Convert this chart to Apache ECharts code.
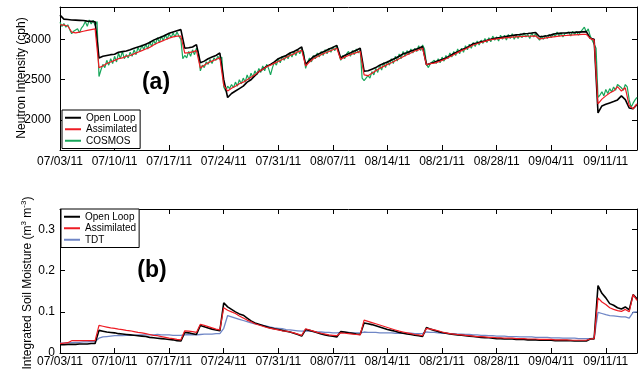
<!DOCTYPE html>
<html><head><meta charset="utf-8">
<script src="https://cdn.jsdelivr.net/npm/echarts@6/dist/echarts.min.js"></script>
<style>html,body{margin:0;padding:0;background:#fff}#c{width:639px;height:374px}</style>
</head><body><div id="c"></div><script>
// x values are days since 07/03/11 00:00
const tickDays = [0, 7, 14, 21, 28, 35, 42, 49, 56, 63, 70];
const tickLabels = ['07/03/11','07/10/11','07/17/11','07/24/11','07/31/11','08/07/11','08/14/11','08/21/11','08/28/11','09/04/11','09/11/11'];
const neutronTicks = [2000, 2500, 3000];
const smTicks = [0, 0.1, 0.2, 0.3];
const smTickLabels = ['0', '0.1', '0.2', '0.3'];
const step = 0.5;      // days between samples (Open Loop, Assimilated, TDT)
const stepCosmos = 0.25; // days between COSMOS samples

// (a) Neutron intensity (cph)
const neutronOpenLoop = [
3300,3250,3245,3240,3238,3235,3232,3225,3222,3218,
2770,2790,2800,2810,2815,2840,2848,2855,2870,2890,
2905,2920,2940,2960,2990,3010,3030,3050,3075,3090,
3105,3120,2890,2895,2905,2935,2710,2730,2760,2780,
2800,2830,2500,2280,2330,2360,2390,2420,2470,2500,
2550,2600,2630,2665,2690,2720,2760,2780,2800,2830,
2850,2875,2905,2690,2740,2785,2810,2835,2855,2880,
2900,2925,2770,2800,2820,2845,2865,2890,2605,2610,
2630,2650,2680,2700,2720,2745,2765,2790,2820,2835,
2855,2870,2890,2910,2685,2700,2715,2735,2750,2770,
2795,2825,2845,2870,2890,2915,2945,2955,2970,2980,
2995,3008,3015,3022,3030,3040,3048,3055,3060,3068,
3072,3078,3085,3032,3038,3045,3055,3068,3074,3078,
3080,3084,3086,3089,3092,3095,3012,3000,2090,2175,
2195,2213,2230,2250,2300,2254,2150,2140,2195];
const neutronAssim = [
3180,3175,3165,3090,3080,3090,3100,3110,3120,3130,
2650,2670,2700,2720,2740,2760,2770,2790,2800,2820,
2840,2860,2880,2900,2930,2955,2975,2995,3015,3030,
3040,3040,2830,2835,2845,2860,2645,2680,2710,2730,
2750,2770,2430,2360,2395,2420,2450,2470,2500,2530,
2560,2600,2630,2660,2680,2705,2725,2750,2775,2800,
2820,2845,2865,2670,2720,2760,2785,2810,2830,2850,
2870,2890,2750,2780,2800,2820,2835,2850,2560,2550,
2580,2610,2640,2665,2690,2710,2735,2760,2785,2810,
2830,2855,2870,2890,2685,2700,2705,2720,2740,2760,
2785,2810,2835,2860,2880,2905,2930,2945,2960,2975,
2990,3000,3005,3012,3018,3022,3026,3030,3033,3036,
3038,3040,3042,3005,3012,3020,3028,3034,3040,3045,
3048,3052,3055,3058,3060,3062,3012,2990,2200,2260,
2300,2336,2360,2415,2360,2400,2180,2140,2200];
const neutronCosmos = [
3210,3160,3195,3150, 3180,3120,3070,3100, 3090,3130,3080,3140, 3170,3220,3160,3240, 3190,3235,3170,3220,
2540,2620,2690,2650, 2740,2680,2760,2700, 2790,2720,2830,2760, 2850,2760,2810,2770, 2840,2790,2870,2810,
2900,2850,2930,2870, 2940,2880,2970,2910, 2990,2940,3020,2960, 3040,2980,3060,3000, 3070,3020,3080,3030,
3090,3040,3000,2760, 2800,2770,2850,2790, 2870,2810,2890,2840, 2610,2680,2650,2720, 2690,2750,2700,2770,
2740,2790,2750,2780, 2410,2360,2420,2390, 2440,2400,2470,2420, 2500,2450,2520,2470, 2560,2500,2580,2530,
2610,2560,2640,2590, 2670,2610,2690,2640, 2560,2650,2720,2680, 2760,2710,2790,2740, 2800,2760,2830,2780,
2850,2800,2870,2820, 2880,2840,2640,2720, 2770,2720,2800,2760, 2830,2780,2850,2800, 2870,2820,2890,2840,
2910,2860,2920,2900, 2740,2800,2760,2820, 2850,2790,2860,2810, 2880,2830,2870,2520, 2490,2470,2550,2520,
2600,2560,2640,2590, 2680,2620,2710,2650, 2730,2680,2760,2700, 2790,2730,2820,2760, 2850,2790,2860,2810,
2880,2830,2890,2850, 2920,2860,2930,2880, 2690,2650,2700,2680, 2740,2700,2760,2710, 2780,2730,2800,2760,
2830,2780,2850,2800, 2880,2820,2890,2840, 2920,2870,2940,2890, 2960,2910,2980,2930, 2990,2950,3010,2960,
3020,2970,3040,2990, 3030,2980,3050,3000, 3050,2990,3060,3010, 3070,3000,3050,3010, 3070,3020,3080,3030,
3060,3010,3080,3030, 3070,3020,2990,3040, 3000,3050,3010,3060, 3020,3070,3030,3090, 3040,3080,3030,3070,
3050,3090,3040,3100, 3060,3100,3050,3090, 3080,3150,3090,3130, 3040,2990,2940,2890, 2280,2310,2350,2300,
2380,2330,2390,2350, 2410,2370,2440,2460, 2400,2370,2440,2410, 2250,2160,2210,2250, 2280];

// (b) Integrated soil moisture (m3 m-3)
const smOpenLoop = [
0.020,0.020,0.021,0.021,0.021,0.022,0.022,0.022,0.023,0.023,
0.055,0.053,0.051,0.050,0.049,0.047,0.046,0.045,0.044,0.043,
0.042,0.041,0.040,0.038,0.037,0.036,0.035,0.034,0.033,0.032,
0.030,0.029,0.050,0.049,0.047,0.045,0.067,0.064,0.061,0.058,
0.056,0.054,0.122,0.112,0.106,0.100,0.095,0.092,0.085,0.078,
0.073,0.070,0.067,0.064,0.061,0.059,0.057,0.055,0.053,0.051,
0.048,0.045,0.041,0.057,0.055,0.052,0.049,0.046,0.044,0.042,
0.041,0.039,0.052,0.051,0.049,0.048,0.046,0.045,0.073,0.071,
0.069,0.066,0.063,0.060,0.057,0.055,0.053,0.050,0.048,0.046,
0.045,0.043,0.042,0.040,0.062,0.058,0.055,0.052,0.050,0.048,
0.046,0.045,0.044,0.043,0.042,0.041,0.040,0.039,0.038,0.037,
0.037,0.036,0.035,0.035,0.034,0.034,0.034,0.033,0.033,0.033,
0.032,0.032,0.032,0.031,0.031,0.031,0.031,0.030,0.030,0.030,
0.030,0.030,0.029,0.029,0.029,0.029,0.034,0.034,0.164,0.145,
0.134,0.120,0.116,0.110,0.107,0.112,0.105,0.142,0.132];
const smAssim = [
0.023,0.024,0.025,0.030,0.030,0.030,0.030,0.030,0.030,0.030,
0.067,0.065,0.063,0.061,0.060,0.058,0.057,0.055,0.054,0.052,
0.050,0.049,0.047,0.045,0.043,0.042,0.040,0.038,0.036,0.035,
0.033,0.032,0.054,0.053,0.052,0.050,0.070,0.067,0.064,0.061,
0.058,0.056,0.110,0.104,0.100,0.096,0.090,0.085,0.080,0.076,
0.071,0.068,0.065,0.062,0.060,0.058,0.056,0.054,0.053,0.051,
0.049,0.046,0.043,0.059,0.056,0.053,0.050,0.048,0.046,0.044,
0.043,0.042,0.049,0.048,0.047,0.046,0.045,0.044,0.080,0.077,
0.074,0.071,0.068,0.065,0.062,0.059,0.056,0.053,0.051,0.049,
0.047,0.045,0.044,0.042,0.060,0.058,0.056,0.054,0.051,0.049,
0.047,0.046,0.045,0.044,0.043,0.042,0.041,0.040,0.040,0.039,
0.038,0.038,0.037,0.037,0.036,0.036,0.036,0.035,0.035,0.035,
0.034,0.034,0.034,0.033,0.033,0.033,0.033,0.032,0.032,0.032,
0.032,0.031,0.031,0.031,0.031,0.031,0.034,0.035,0.134,0.124,
0.118,0.110,0.106,0.103,0.101,0.106,0.100,0.142,0.128];
const smTDT = [
0.024,0.024,0.025,0.025,0.026,0.026,0.027,0.027,0.028,0.028,
0.036,0.039,0.040,0.041,0.042,0.042,0.042,0.043,0.043,0.043,
0.044,0.044,0.044,0.044,0.044,0.045,0.044,0.044,0.044,0.043,
0.043,0.043,0.044,0.045,0.044,0.044,0.045,0.046,0.046,0.046,
0.047,0.047,0.060,0.091,0.088,0.085,0.082,0.079,0.076,0.073,
0.071,0.069,0.067,0.065,0.063,0.061,0.060,0.059,0.057,0.056,
0.055,0.054,0.053,0.054,0.053,0.052,0.051,0.051,0.050,0.050,
0.049,0.049,0.050,0.050,0.050,0.049,0.049,0.049,0.051,0.050,
0.050,0.050,0.049,0.049,0.049,0.049,0.048,0.048,0.048,0.048,
0.048,0.047,0.047,0.047,0.051,0.050,0.050,0.049,0.048,0.048,
0.047,0.047,0.046,0.046,0.045,0.045,0.044,0.044,0.043,0.043,
0.042,0.042,0.041,0.041,0.041,0.040,0.040,0.040,0.039,0.039,
0.039,0.039,0.038,0.038,0.038,0.038,0.037,0.037,0.037,0.036,
0.036,0.036,0.036,0.035,0.035,0.035,0.035,0.036,0.099,0.096,
0.093,0.091,0.090,0.089,0.088,0.088,0.085,0.099,0.100];

const FONT = '"Liberation Sans", Arial, sans-serif';
const toXY = (arr, dt) => arr.map((v, i) => [i * dt, v]);

function xAx(grid, pos, showLabel, margin) {
  return {
    gridIndex: grid, type: 'value', min: 0, max: 74, position: pos,
    axisLine: { show: true, onZero: false, lineStyle: { color: '#000', width: 1 } },
    axisTick: { show: true, inside: true, length: 5, customValues: tickDays, lineStyle: { color: '#000' } },
    axisLabel: { show: showLabel, customValues: tickDays, margin: margin, color: '#000', fontSize: 12, fontFamily: FONT,
      formatter: v => tickLabels[tickDays.indexOf(v)] || '' },
    splitLine: { show: false }
  };
}
function yAx(grid, pos, min, max, ticks, labels, showLabel, margin) {
  return {
    gridIndex: grid, type: 'value', min: min, max: max, position: pos,
    axisLine: { show: true, onZero: false, lineStyle: { color: '#000', width: 1 } },
    axisTick: { show: true, inside: true, length: 5, customValues: ticks, lineStyle: { color: '#000' } },
    axisLabel: { show: showLabel, customValues: ticks, margin: margin, color: '#000', fontSize: 12, fontFamily: FONT,
      formatter: v => { const k = ticks.findIndex(t => Math.abs(t - v) < 1e-9); return k >= 0 ? labels[k] : ''; } },
    splitLine: { show: false }
  };
}
function line(name, data, color, width, xi, yi, z) {
  return { name, type: 'line', data, xAxisIndex: xi, yAxisIndex: yi, showSymbol: false, symbol: 'none',
    lineStyle: { color, width }, itemStyle: { color }, z, silent: true };
}
const legendBase = {
  orient: 'vertical', icon: 'rect', itemWidth: 16, itemHeight: 2, itemGap: 0,
  padding: [2, 3, 2, 3], borderColor: '#000', borderWidth: 1, backgroundColor: '#fff',
  selectedMode: false, textStyle: { fontSize: 10, lineHeight: 11.5, fontFamily: FONT, color: '#000' }
};

const chart = echarts.init(document.getElementById('c'), null, { renderer: 'canvas' });
chart.setOption({
  animation: false,
  backgroundColor: '#fff',
  grid: [
    { left: 60, top: 7, width: 577, height: 143 },
    { left: 60, top: 209, width: 577, height: 144 }
  ],
  xAxis: [ xAx(0, 'bottom', true, 6), xAx(0, 'top', false, 0), xAx(1, 'bottom', true, 3), xAx(1, 'top', false, 0) ],
  yAxis: [
    yAx(0, 'left', 1630, 3400, neutronTicks, neutronTicks.map(String), true, 9),
    yAx(0, 'right', 1630, 3400, neutronTicks, neutronTicks.map(String), false, 0),
    yAx(1, 'left', 0, 0.35, smTicks, smTickLabels, true, 5),
    yAx(1, 'right', 0, 0.35, smTicks, smTickLabels, false, 0)
  ],
  legend: [
    Object.assign({}, legendBase, { left: 62, top: 110, data: ['Open Loop', 'Assimilated', 'COSMOS'] }),
    Object.assign({}, legendBase, { left: 61, top: 209, data: ['Open Loop', 'Assimilated', 'TDT'] })
  ],
  series: [
    line('COSMOS', toXY(neutronCosmos, stepCosmos), '#17a65a', 1.2, 0, 0, 2),
    line('Open Loop', toXY(neutronOpenLoop, step), '#000000', 1.6, 0, 0, 3),
    line('Assimilated', toXY(neutronAssim, step), '#ee1c24', 1.2, 0, 0, 4),
    line('TDT', toXY(smTDT, step), '#6f86c6', 1.3, 2, 2, 2),
    line('Open Loop', toXY(smOpenLoop, step), '#000000', 1.6, 2, 2, 3),
    line('Assimilated', toXY(smAssim, step), '#ee1c24', 1.2, 2, 2, 4)
  ],
  graphic: [
    { type: 'text', x: 22, y: 78, rotation: Math.PI / 2, z: 10,
      style: { text: 'Neutron Intensity (cph)', font: '12px ' + FONT, fill: '#000', align: 'center', verticalAlign: 'middle' } },
    { type: 'text', x: 28, y: 283, rotation: Math.PI / 2, z: 10,
      style: { text: '{n|Integrated Soil Moisture (m}{s|3}{n| m}{s|-3}{n|)}', align: 'center', verticalAlign: 'middle',
        rich: { n: { fontSize: 12, fontFamily: FONT, fill: '#000', lineHeight: 16 },
                s: { fontSize: 8, fontFamily: FONT, fill: '#000', lineHeight: 8, verticalAlign: 'top' } } } },
    { type: 'text', x: 156, y: 83, z: 10,
      style: { text: '(a)', font: 'bold 23px ' + FONT, fill: '#000', align: 'center', verticalAlign: 'middle' } },
    { type: 'text', x: 152, y: 271, z: 10,
      style: { text: '(b)', font: 'bold 23px ' + FONT, fill: '#000', align: 'center', verticalAlign: 'middle' } }
  ]
});
</script></body></html>
